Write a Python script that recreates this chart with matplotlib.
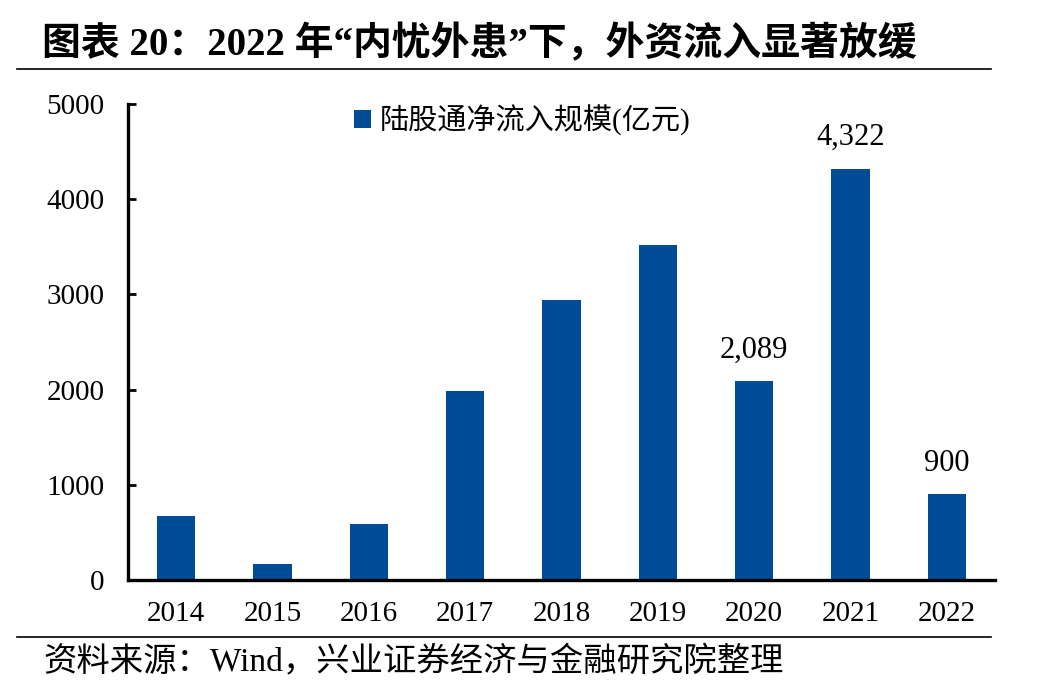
import matplotlib
matplotlib.use("Agg")
import matplotlib.pyplot as plt
from matplotlib.lines import Line2D

plt.rcParams['font.family'] = ['Liberation Serif', 'Noto Sans CJK SC']

# 数据
years = ['2014', '2015', '2016', '2017', '2018', '2019', '2020', '2021', '2022']
inflow = [675, 170, 590, 1990, 2940, 3515, 2089, 4322, 900]
labelled = {'2020': '2,089', '2021': '4,322', '2022': '900'}
yticks = [0, 1000, 2000, 3000, 4000, 5000]

bar_color = '#004C97'

fig = plt.figure(figsize=(10.42, 6.98), dpi=100)
ax = fig.add_axes([128/1042, 1-580/698, 867/1042, 476/698])

x = range(len(years))
ax.bar(x, inflow, width=0.4, color=bar_color, label='陆股通净流入规模(亿元)')

for i, (yr, v) in enumerate(zip(years, inflow)):
    if yr in labelled:
        ax.annotate(labelled[yr], (i, v), xytext=(0, 12), textcoords='offset points',
                    ha='center', va='bottom', fontsize=22)

ax.set_xlim(-0.5, len(years) - 0.5)
ax.set_ylim(0, 5000)
ax.set_yticks(yticks)
ax.set_xticks(list(x))
ax.set_xticklabels(years)
ax.tick_params(axis='y', direction='in', length=6, width=2, labelsize=21, pad=17)
ax.tick_params(axis='x', length=0, labelsize=21, pad=15)
for s in ['top', 'right']:
    ax.spines[s].set_visible(False)
for s in ['left', 'bottom']:
    ax.spines[s].set_linewidth(2.4)

ax.legend(loc='center', bbox_to_anchor=(0.455, 0.966), frameon=False,
          fontsize=21, handlelength=0.6, handleheight=0.6, handletextpad=0.3)

# 标题与来源
fig.text(42/1042, 1-45/698, '图表 20：2022 年“内忧外患”下，外资流入显著放缓',
         fontsize=28, fontweight='bold', va='center', ha='left')
fig.add_artist(Line2D([17/1042, 991/1042], [1-69/698, 1-69/698], color='black', lw=1.2))
fig.add_artist(Line2D([17/1042, 991/1042], [1-637/698, 1-637/698], color='black', lw=1.2))
fig.text(43/1042, 1-662/698, '资料来源：Wind，兴业证券经济与金融研究院整理',
         fontsize=24, va='center', ha='left')

fig.savefig('out.png', dpi=100)
